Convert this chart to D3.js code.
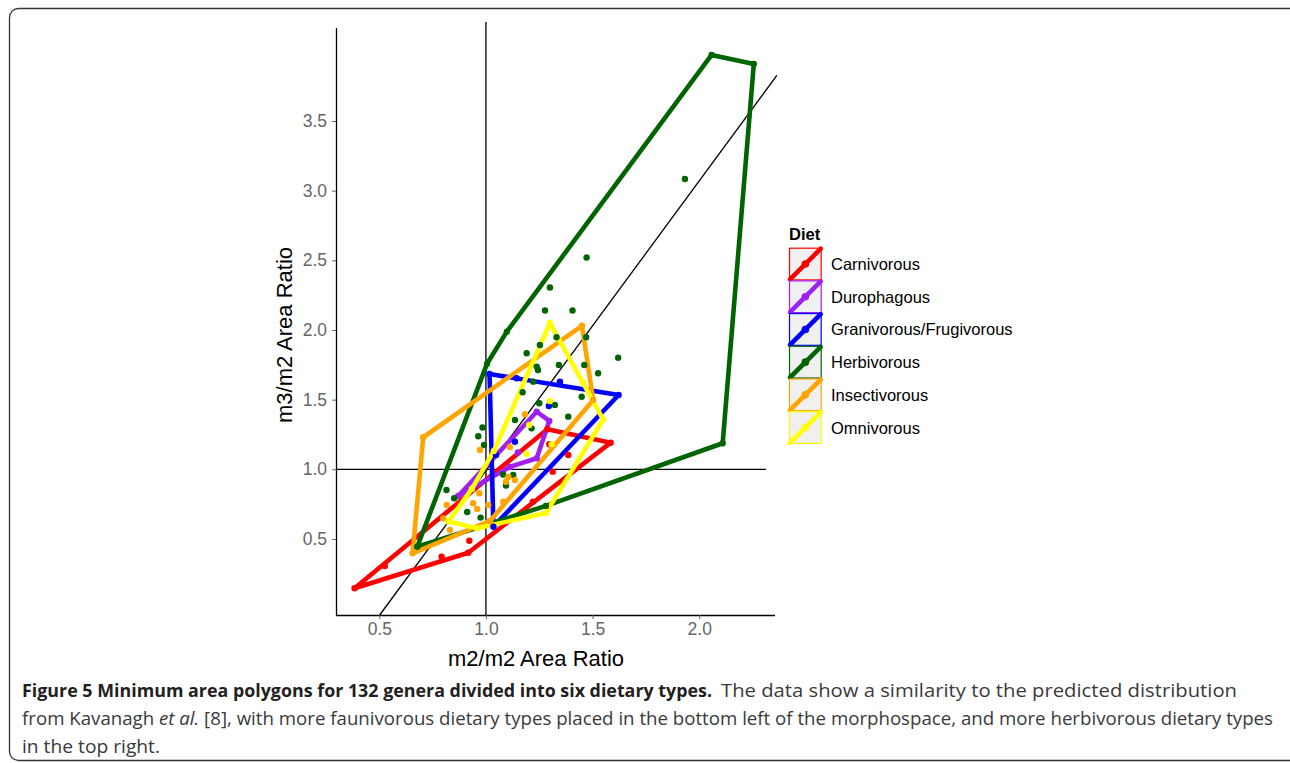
<!DOCTYPE html>
<html>
<head>
<meta charset="utf-8">
<script src="https://cdn.jsdelivr.net/npm/d3@7"></script>
<style>
  body { margin: 0; background: #fff; }
  text { font-family: "Liberation Sans", Arial, sans-serif; }
  text.caption { font-family: "Open Sans", sans-serif; }
</style>
</head>
<body>
<svg id="chart" width="1290" height="763"></svg>
<script>
// categories and colours
const diets = ["Carnivorous", "Durophagous", "Granivorous/Frugivorous", "Herbivorous", "Insectivorous", "Omnivorous"];
const dietColors = ["#ff0000", "#a020f0", "#0000ff", "#006400", "#ffa500", "#ffff00"];

const xTicks = [0.5, 1.0, 1.5, 2.0];
const yTicks = [0.5, 1.0, 1.5, 2.0, 2.5, 3.0, 3.5];

// hull vertices [m2/m2, m3/m2]
const carnivorousHull = [[0.384, 0.146], [0.917, 0.401], [1.585, 1.191], [1.288, 1.287]];
const durophagousHull = [[0.870, 0.808], [1.238, 1.413], [1.297, 1.347], [1.238, 1.079], [1.112, 1.017]];
const granivorousHull = [[1.017, 1.684], [1.622, 1.533], [1.035, 0.588]];
const herbivorousHull = [[2.058, 3.974], [2.256, 3.910], [2.110, 1.187], [1.281, 0.737], [0.678, 0.444], [1.005, 1.757], [1.098, 1.988]];
const insectivorousHull = [[1.450, 2.030], [1.503, 1.497], [1.019, 0.629], [0.656, 0.397], [0.706, 1.230]];
const omnivorousHull = [[1.300, 2.050], [1.550, 1.357], [1.281, 0.686], [0.958, 0.576], [0.824, 0.625], [0.934, 0.859], [1.037, 1.131]];

// genera that sit inside the hulls
const carnivorousPts = [[0.526, 0.305], [0.792, 0.373], [0.922, 0.487], [1.297, 1.180], [1.386, 1.103], [1.313, 0.983], [1.220, 0.767]];
const durophagousPts = [[1.150, 1.120]];
const granivorousPts = [[1.347, 1.629], [1.144, 1.653], [1.295, 1.454], [1.136, 1.198], [1.047, 1.103]];
const herbivorousPts = [
  [1.933, 3.084], [1.472, 2.520], [1.300, 2.305], [1.277, 2.140], [1.406, 2.140], [1.331, 1.948],
  [1.470, 1.948], [1.253, 1.892], [1.191, 1.833], [1.620, 1.801], [1.238, 1.737], [1.244, 1.713],
  [1.342, 1.749], [1.461, 1.749], [1.526, 1.689], [1.222, 1.629], [1.172, 1.553], [1.449, 1.521],
  [1.323, 1.462], [1.386, 1.378], [1.136, 1.354], [1.250, 1.474], [0.984, 1.300], [0.964, 1.237],
  [0.991, 1.174], [1.081, 0.963], [1.128, 0.959], [1.094, 0.884], [0.815, 0.851], [0.851, 0.792],
  [0.912, 0.693], [0.975, 0.653], [1.214, 1.294]
];
const insectivorousPts = [
  [1.183, 1.395], [0.972, 1.139], [1.112, 1.160], [1.105, 0.945], [1.136, 0.923], [0.969, 0.828],
  [0.940, 0.756], [0.959, 0.715], [1.011, 0.744], [1.081, 0.767], [0.816, 0.744], [0.800, 0.648],
  [0.831, 0.564], [1.094, 0.911]
];
const omnivorousPts = [[1.300, 1.490], [1.203, 1.318], [1.308, 1.179], [1.191, 1.110], [1.456, 1.622]];

const hulls = [carnivorousHull, durophagousHull, granivorousHull, herbivorousHull, insectivorousHull, omnivorousHull];
const extraPts = [carnivorousPts, durophagousPts, granivorousPts, herbivorousPts, insectivorousPts, omnivorousPts];

// reference lines
const refX = 1.0, refY = 1.0;
const lineSlope = 2.08, lineIntercept = -1.09;

const svg = d3.select("#chart");

// figure frame
svg.append("rect")
  .attr("x", 9.5).attr("y", 8.5)
  .attr("width", 1300).attr("height", 752)
  .attr("rx", 9)
  .attr("fill", "none")
  .attr("stroke", "#333")
  .attr("stroke-width", 1.3);

let x = d3.scaleLinear().domain([0.297, 2.36]).range([336, 776]);
let y = d3.scaleLinear().domain([-0.046, 4.2]).range([615, 23.5]);

let panel = svg.append("g");

// horizontal and vertical guide lines
panel.append("line")
  .attr("x1", x(0.297)).attr("x2", x(2.313))
  .attr("y1", y(refY)).attr("y2", y(refY))
  .attr("stroke", "#000").attr("stroke-width", 1.3);
panel.append("line")
  .attr("x1", x(refX)).attr("x2", x(refX))
  .attr("y1", y(-0.046)).attr("y2", y(4.21))
  .attr("stroke", "#000").attr("stroke-width", 1.3);

// sloped reference line, kept inside the panel
const x0 = (-0.046 - lineIntercept) / lineSlope;
const x1 = 2.364;
panel.append("line")
  .attr("x1", x(x0)).attr("y1", y(lineSlope * x0 + lineIntercept))
  .attr("x2", x(x1)).attr("y2", y(lineSlope * x1 + lineIntercept))
  .attr("stroke", "#000").attr("stroke-width", 1.3);

let hullLine = d3.line().x(d => x(d[0])).y(d => y(d[1])).curve(d3.curveLinearClosed);

// polygons
panel.selectAll("path.hull")
  .data(hulls)
  .enter()
  .append("path")
  .attr("class", "hull")
  .attr("d", d => hullLine(d))
  .attr("fill", "none")
  .attr("stroke", (d, i) => dietColors[i])
  .attr("stroke-width", 4.6)
  .attr("stroke-linejoin", "round");

// points: hull vertices plus inner genera
hulls.forEach(function (h, i) {
  panel.append("g").selectAll("circle")
    .data(h.concat(extraPts[i]))
    .enter()
    .append("circle")
    .attr("cx", d => x(d[0]))
    .attr("cy", d => y(d[1]))
    .attr("r", 3.2)
    .attr("fill", dietColors[i]);
});

// axes
let xAxis = svg.append("g")
  .attr("transform", `translate(0,${615})`)
  .call(d3.axisBottom(x).tickValues(xTicks).tickFormat(d3.format(".1f")).tickSize(4).tickSizeOuter(0).tickPadding(4));
let yAxis = svg.append("g")
  .attr("transform", `translate(${336},0)`)
  .call(d3.axisLeft(y).tickValues(yTicks).tickFormat(d3.format(".1f")).tickSize(4).tickSizeOuter(0).tickPadding(5));

xAxis.select(".domain").attr("d", "M336,0.5H775").attr("stroke", "#000").attr("stroke-width", 1.3);
yAxis.select(".domain").attr("d", "M0.5,615V28").attr("stroke", "#000").attr("stroke-width", 1.3);
[xAxis, yAxis].forEach(function (a) {
  a.selectAll(".tick line").attr("stroke", "#666");
  a.selectAll(".tick text")
    .attr("fill", "#666")
    .style("font-size", "17.5px")
    .style("font-family", "'Liberation Sans', Arial, sans-serif");
});

// axis titles
svg.append("text")
  .attr("x", 536).attr("y", 666)
  .style("text-anchor", "middle")
  .style("font-size", "22px")
  .text("m2/m2 Area Ratio");
svg.append("text")
  .attr("transform", `translate(292,335) rotate(-90)`)
  .style("text-anchor", "middle")
  .style("font-size", "22px")
  .text("m3/m2 Area Ratio");

// legend
let legend = svg.append("g").attr("transform", "translate(789,0)");
legend.append("text")
  .attr("x", 0).attr("y", 240)
  .style("font-size", "16.5px")
  .style("font-weight", "bold")
  .text("Diet");

let keySize = 32.7, keyTop = 247.7;
let keys = legend.selectAll("g.key")
  .data(diets)
  .enter()
  .append("g")
  .attr("class", "key")
  .attr("transform", (d, i) => `translate(0,${keyTop + i * keySize})`);

keys.append("rect")
  .attr("x", 0.5).attr("y", 0.5)
  .attr("width", keySize - 1).attr("height", keySize - 1)
  .attr("fill", "#f0f0f0")
  .attr("stroke", (d, i) => dietColors[i])
  .attr("stroke-width", 1.2);
keys.append("line")
  .attr("x1", 1).attr("y1", keySize - 1)
  .attr("x2", keySize - 1).attr("y2", 1)
  .attr("stroke", (d, i) => dietColors[i])
  .attr("stroke-width", 4.6)
  .attr("stroke-linecap", "round");
keys.append("circle")
  .attr("cx", keySize / 2).attr("cy", keySize / 2)
  .attr("r", 3.8)
  .attr("fill", (d, i) => dietColors[i]);
keys.append("text")
  .attr("x", 42).attr("y", keySize / 2 + 6)
  .style("font-size", "16.5px")
  .text(d => d);

// caption
svg.append("text")
  .attr("class", "caption")
  .attr("x", 22).attr("y", 697)
  .attr("textLength", 690).attr("lengthAdjust", "spacingAndGlyphs")
  .style("font-size", "18px").style("font-weight", "bold").attr("fill", "#231f20")
  .text("Figure 5 Minimum area polygons for 132 genera divided into six dietary types.");
svg.append("text")
  .attr("class", "caption")
  .attr("x", 721).attr("y", 697)
  .attr("textLength", 516).attr("lengthAdjust", "spacingAndGlyphs")
  .style("font-size", "18.5px").attr("fill", "#3a3a3a")
  .text("The data show a similarity to the predicted distribution");

let line2 = svg.append("text")
  .attr("class", "caption")
  .attr("x", 22).attr("y", 725)
  .attr("textLength", 1251).attr("lengthAdjust", "spacingAndGlyphs")
  .style("font-size", "18px").attr("fill", "#3a3a3a");
line2.append("tspan").text("from Kavanagh ");
line2.append("tspan").style("font-style", "italic").text("et al.");
line2.append("tspan").text(" [8], with more faunivorous dietary types placed in the bottom left of the morphospace, and more herbivorous dietary types");

svg.append("text")
  .attr("class", "caption")
  .attr("x", 22).attr("y", 753)
  .attr("textLength", 138).attr("lengthAdjust", "spacingAndGlyphs")
  .style("font-size", "18px").attr("fill", "#3a3a3a")
  .text("in the top right.");
</script>
</body>
</html>
